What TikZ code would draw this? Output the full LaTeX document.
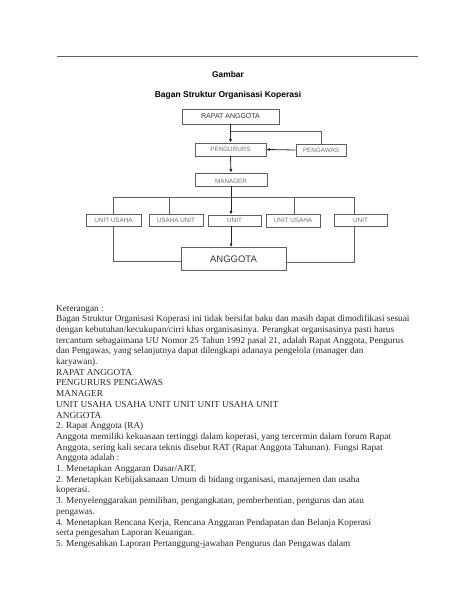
\documentclass[tikz,border=0pt]{standalone}
\usepackage{fontspec}
\setmainfont{Liberation Serif}
\setsansfont{Liberation Sans}
\usepackage{xcolor}
\usepackage{tikz}
\usetikzlibrary{arrows.meta}
\definecolor{boxgray}{RGB}{95,95,95}
\definecolor{textgray}{RGB}{110,110,110}

\begin{document}
\begin{tikzpicture}[x=1pt,y=-1pt,
    unitbox/.style={draw=boxgray,line width=0.8pt,inner sep=0pt,
      font=\sffamily\fontsize{6.3}{7}\selectfont,text=textgray},
    bodytext/.style={anchor=base west,inner sep=0pt,text=black!85,
      font=\fontsize{9.25}{10}\selectfont},
    link/.style={boxgray,line width=0.8pt},
    arrow/.style={link,-{Latex[length=3.5pt,width=3.2pt]},black!85}]
    \useasboundingbox (0,0) rectangle (474,613);
    \draw[boxgray,line width=0.8pt] (57,56) -- (418,56);
    % judul
    \node[anchor=base,font=\sffamily\bfseries\fontsize{8.4}{10}\selectfont] (judul) at (228,77.5) {Gambar};
    \node[anchor=base,font=\sffamily\bfseries\fontsize{8.5}{10}\selectfont] (subjudul) at (228,97.5) {Bagan Struktur Organisasi Koperasi};
    % kotak-kotak
    \node[unitbox,minimum width=97pt,minimum height=15pt,text=black!80,
      font=\sffamily\fontsize{7}{8}\selectfont] (rapat) at (230.5,116.5) {RAPAT ANGGOTA};
    \node[unitbox,minimum width=71pt,minimum height=13pt] (pengurus) at (230.5,149.5) {PENGURURS};
    \node[unitbox,minimum width=50pt,minimum height=12pt] (pengawas) at (321,150) {PENGAWAS};
    \node[unitbox,minimum width=72pt,minimum height=13pt] (manager) at (231,179.5) {};
    \begin{scope}
      \clip (manager.north west) rectangle ([yshift=4pt]manager.south east);
      \node[unitbox,draw=none,anchor=base] (managertxt) at (231,183.5) {MANAGER};
    \end{scope}
    \node[unitbox,minimum width=55pt,minimum height=12pt] (u1) at (113.5,220) {UNIT USAHA};
    \node[unitbox,minimum width=54pt,minimum height=12pt] (u2) at (176,220) {USAHA UNIT};
    \node[unitbox,minimum width=53pt,minimum height=11pt] (u3) at (234.5,220.5) {UNIT};
    \node[unitbox,minimum width=54pt,minimum height=13pt] (u4) at (293,220.5) {UNIT USAHA};
    \node[unitbox,minimum width=53pt,minimum height=12pt] (u5) at (360.5,220.5) {UNIT};
    \node[unitbox,minimum width=105pt,minimum height=23pt,text=black!80,
      font=\sffamily\fontsize{9.5}{11}\selectfont] (anggota) at (233.5,259) {ANGGOTA};
    % garis
    \coordinate (split) at (231,131);
    \draw[arrow] (rapat.south) -- (pengurus.north);
    \draw[link] (split) -| (pengawas.north);
    \draw[arrow] (pengawas.west) -- (pengurus.east);
    \draw[arrow] (pengurus.south) -- (manager.north);
    \draw[arrow] (manager.south) -- (manager.south |- u3.north);
    \coordinate (bus1) at (113,197);
    \coordinate (bus2) at (169,197);
    \coordinate (bus4) at (294,197);
    \coordinate (bus5) at (354,197);
    \draw[link] (bus1) -- (bus5);
    \draw[link] (bus1) -- (bus1 |- u1.north);
    \draw[link] (bus2) -- (bus2 |- u2.north);
    \draw[link] (bus4) -- (bus4 |- u4.north);
    \draw[link] (bus5) -- (bus5 |- u5.north);
    \draw[arrow] (manager.south |- u3.south) -- (manager.south |- anggota.north);
    \draw[link] (bus1 |- u1.south) |- ([yshift=-2pt]anggota.west);
    \draw[link] (bus5 |- u5.south) |- ([yshift=-3pt]anggota.east);
    % keterangan
    \foreach \txt [count=\i from 0] in {
      {Keterangan :},
      {Bagan Struktur Organisasi Koperasi ini tidak bersifat baku dan masih dapat dimodifikasi sesuai},
      {dengan kebutuhan/kecukupan/cirri khas organisasinya. Perangkat organisasinya pasti harus},
      {tercantum sebagaimana UU Nomor 25 Tahun 1992 pasal 21, adalah Rapat Anggota, Pengurus},
      {dan Pengawas, yang selanjutnya dapat dilengkapi adanaya pengelola (manager dan},
      {karyawan).},
      {RAPAT ANGGOTA},
      {PENGURURS PENGAWAS},
      {MANAGER},
      {UNIT USAHA USAHA UNIT UNIT UNIT USAHA UNIT},
      {ANGGOTA},
      {2. Rapat Anggota (RA)},
      {Anggota memiliki kekuasaan tertinggi dalam koperasi, yang tercermin dalam forum Rapat},
      {Anggota, sering kali secara teknis disebut RAT (Rapat Anggota Tahunan). Fungsi Rapat},
      {Anggota adalah :},
      {1. Menetapkan Anggaran Dasar/ART.},
      {2. Menetapkan Kebijaksanaan Umum di bidang organisasi, manajemen dan usaha},
      {koperasi.},
      {3. Menyelenggarakan pemilihan, pengangkatan, pemberhentian, pengurus dan atau},
      {pengawas.},
      {4. Menetapkan Rencana Kerja, Rencana Anggaran Pendapatan dan Belanja Koperasi},
      {serta pengesahan Laporan Keuangan.},
      {5. Mengesahkan Laporan Pertanggung-jawaban Pengurus dan Pengawas dalam}}
      \node[bodytext] (line\i) at (56,311+10.7*\i) {\txt};
\end{tikzpicture}
\end{document}
